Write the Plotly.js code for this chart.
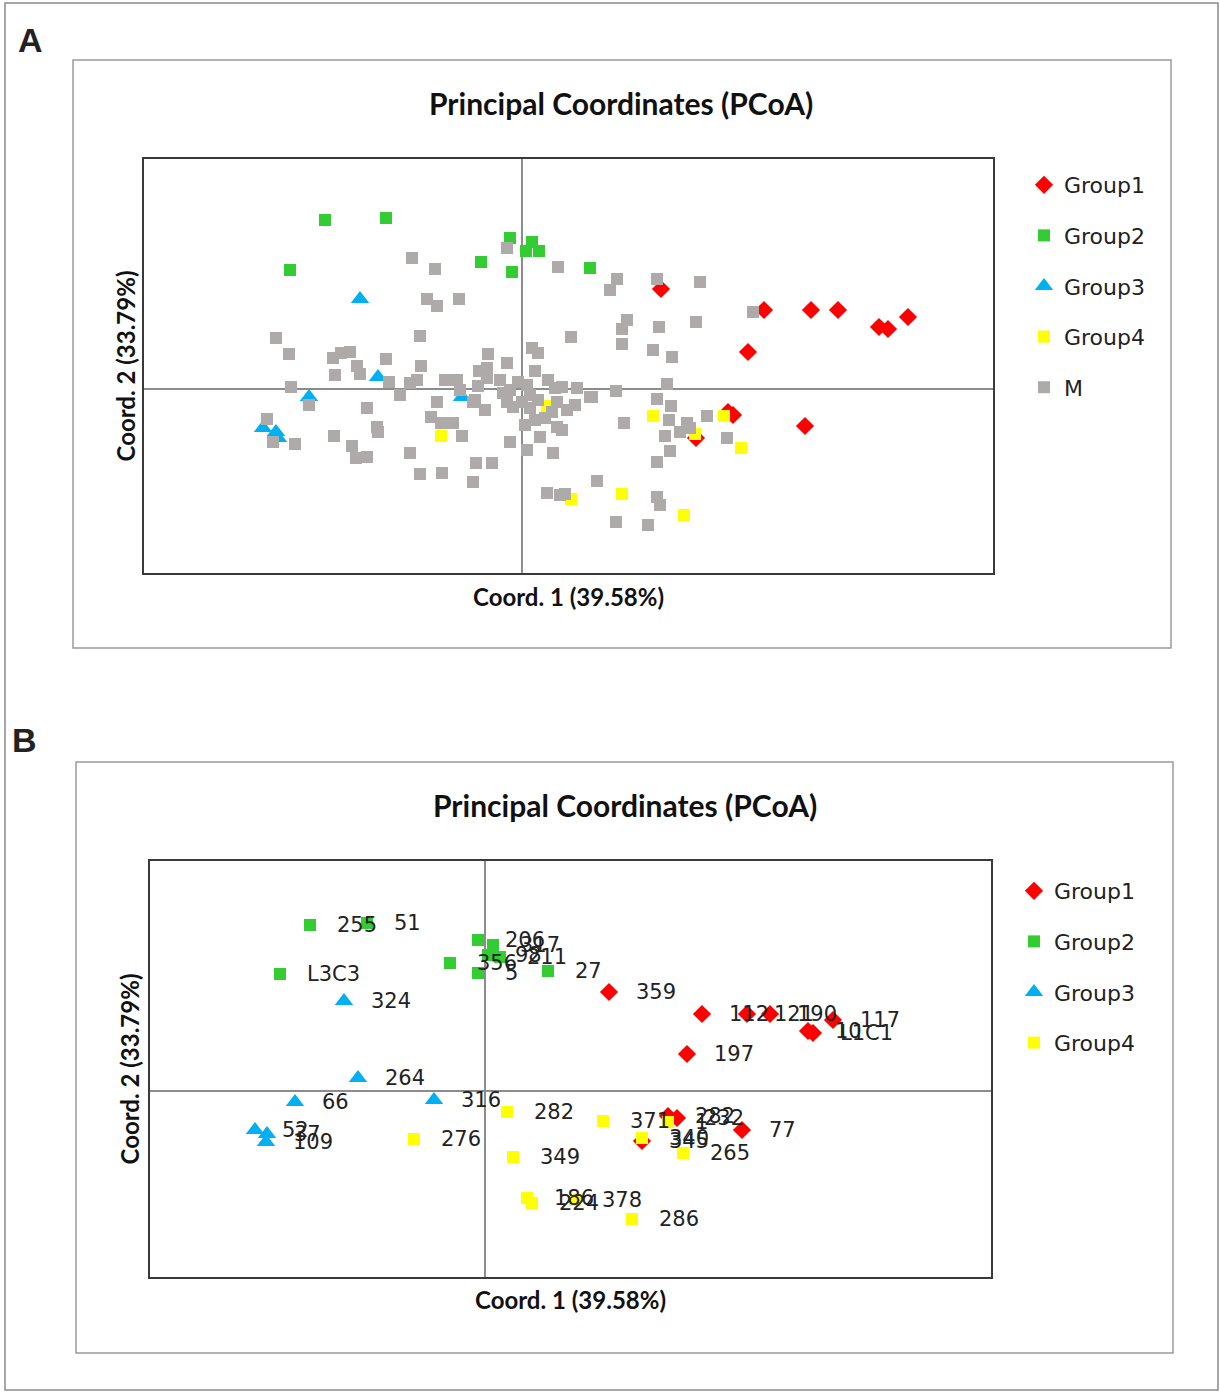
<!DOCTYPE html>
<html><head><meta charset="utf-8">
<script src="https://cdn.plot.ly/plotly-3.0.1.min.js"></script>
<style>html,body{margin:0;padding:0;background:#fff}#chart{width:1220px;height:1393px}</style>
</head><body><div id="chart"></div>
<script>
// ---------- Panel A data ----------
const g1A_x = [0.139,0.242,0.289,0.316,0.357,0.366,0.386,0.226,0.206,0.211,0.283,0.174];
const g1A_y = [0.100,0.079,0.079,0.079,0.062,0.060,0.072,0.037,-0.023,-0.026,-0.037,-0.049];
const g2A_x = [-0.197,-0.136,-0.232,-0.012,-0.041,-0.010,0.010,0.004,0.017,0.068];
const g2A_y = [0.169,0.171,0.119,0.151,0.127,0.117,0.147,0.138,0.138,0.121];
const g3A_x = [-0.162,-0.144,-0.213,-0.259,-0.246,-0.244,-0.060];
const g3A_y = [0.090,0.012,-0.008,-0.039,-0.043,-0.049,-0.008];
const g4A_x = [-0.081,0.025,0.131,0.202,0.173,0.219,0.049,0.100,0.162];
const g4A_y = [-0.047,-0.017,-0.027,-0.027,-0.045,-0.059,-0.110,-0.105,-0.126];
const mA_x = [-0.015,-0.110,-0.087,0.036,-0.095,-0.085,-0.063,-0.246,-0.233,-0.102,
  -0.034,-0.015,0.010,0.016,0.013,0.049,-0.136,-0.101,-0.189,-0.181,
  -0.172,-0.165,-0.187,-0.162,-0.231,-0.213,-0.133,-0.122,-0.112,-0.105,
  -0.077,-0.065,-0.062,-0.085,-0.049,-0.255,-0.249,-0.227,-0.188,-0.155,
  -0.145,-0.144,-0.170,-0.166,-0.155,-0.091,-0.081,-0.069,-0.060,-0.112,
  -0.102,-0.080,-0.046,-0.049,-0.030,-0.043,-0.035,-0.035,-0.004,0.005,
  -0.012,-0.019,-0.044,-0.047,-0.037,-0.015,-0.009,0.000,0.008,0.016,
  0.033,0.040,0.055,0.068,0.053,0.045,0.035,0.030,0.040,0.018,
  0.035,0.003,-0.012,0.005,0.031,0.095,0.088,0.135,0.178,0.231,
  0.105,0.100,0.100,0.137,0.174,0.131,0.150,0.094,0.145,0.135,
  0.149,0.147,0.185,0.165,0.158,0.143,0.168,0.205,0.102,0.148,
  0.135,0.075,0.135,0.138,0.094,0.126,0.025,0.038,0.043,0.070,
  0.008,0.023,0.013,0.026,-0.022];
const mA_y = [0.141,0.131,0.120,0.122,0.090,0.083,0.090,0.051,0.035,0.053,
  0.035,0.026,0.041,0.036,0.018,0.052,0.030,0.023,0.031,0.036,
  0.037,0.023,0.014,0.015,0.002,-0.016,0.007,-0.006,0.006,0.009,
  0.009,0.009,-0.001,-0.013,-0.013,-0.030,-0.053,-0.055,-0.047,-0.019,
  -0.038,-0.043,-0.057,-0.069,-0.068,-0.028,-0.034,-0.034,-0.047,-0.064,
  -0.085,-0.084,-0.074,-0.093,-0.074,0.018,0.021,0.011,0.007,0.004,
  -0.001,-0.004,0.003,-0.011,-0.021,-0.013,-0.018,-0.013,-0.019,-0.011,
  0.001,0.002,0.001,-0.008,-0.016,-0.021,-0.013,-0.023,-0.041,-0.048,
  -0.038,-0.036,-0.053,-0.061,-0.064,0.110,0.099,0.110,0.107,0.077,
  0.069,0.060,0.045,0.062,0.067,0.039,0.032,-0.002,0.005,-0.010,
  -0.017,-0.031,-0.027,-0.034,-0.043,-0.047,-0.039,-0.049,-0.034,-0.062,
  -0.073,-0.092,-0.108,-0.116,-0.133,-0.136,-0.104,-0.106,-0.105,-0.008,
  -0.006,-0.029,-0.031,0.009,0.009];

// ---------- Panel B data ----------
const g1B_x = [0.124,0.217,0.262,0.285,0.323,0.328,0.348,0.202,0.183,0.192,0.257,0.157];
const g1B_y = [0.099,0.077,0.077,0.077,0.060,0.058,0.071,0.037,-0.025,-0.027,-0.039,-0.050];
const g1B_lab = ["359","112","121","190","10","L1C1","117","197","282","232","77","345"];
const g2B_x = [-0.175,-0.118,-0.205,-0.007,0.008,0.003,0.015,-0.035,-0.007,0.063];
const g2B_y = [0.166,0.168,0.117,0.151,0.146,0.136,0.134,0.128,0.118,0.120];
const g2B_lab = ["255","51","L3C3","206","317","98","211","356","5","27"];
const g3B_x = [-0.141,-0.127,-0.190,-0.051,-0.230,-0.218,-0.219];
const g3B_y = [0.090,0.013,-0.011,-0.009,-0.039,-0.043,-0.051];
const g3B_lab = ["324","264","66","316","52","37","109"];
const g4B_x = [0.022,0.118,0.183,0.157,0.198,0.028,-0.071,0.042,0.047,0.090,0.147];
const g4B_y = [-0.021,-0.030,-0.031,-0.047,-0.062,-0.066,-0.048,-0.107,-0.112,-0.109,-0.128];
const g4B_lab = ["282","371","1","340","265","349","276","186","224","378","286"];

const colors = {Group1:"#ff0000", Group2:"#33cc33", Group3:"#00b0f0", Group4:"#ffff00", M:"#aeaaaa"};
const symbols = {Group1:"diamond", Group2:"square", Group3:"triangle-up", Group4:"square", M:"square"};
const sizes = {Group1:14, Group2:12, Group3:16, Group4:12, M:12};

const fontTxt = "DejaVu Sans, Verdana, sans-serif";
const fontBold = "Lato, Carlito, Calibri, sans-serif";

function tr(name, x, y, xa, ya, leg) {
  return {type:"scatter", mode:"markers", name:name, x:x, y:y, xaxis:xa, yaxis:ya,
    legend:leg, legendgroup:name+leg,
    marker:{color:colors[name], symbol:symbols[name], size:sizes[name], line:{width:0}},
    hoverinfo:"x+y+name"};
}

const data = [
  tr("Group1", g1A_x, g1A_y, "x", "y", "legend"),
  tr("Group2", g2A_x, g2A_y, "x", "y", "legend"),
  tr("Group3", g3A_x, g3A_y, "x", "y", "legend"),
  tr("Group4", g4A_x, g4A_y, "x", "y", "legend"),
  tr("M", mA_x, mA_y, "x", "y", "legend"),
  tr("Group1", g1B_x, g1B_y, "x2", "y2", "legend2"),
  tr("Group2", g2B_x, g2B_y, "x2", "y2", "legend2"),
  tr("Group3", g3B_x, g3B_y, "x2", "y2", "legend2"),
  tr("Group4", g4B_x, g4B_y, "x2", "y2", "legend2")
];

const W = 1220, H = 1393;
const px = v => v / W, py = v => 1 - v / H;

function axis(domain, range, title, standoff, anchor) {
  return {domain:domain, range:range, anchor:anchor, showgrid:false, showticklabels:false, ticks:"",
    zeroline:true, zerolinecolor:"#8c8c8c", zerolinewidth:1.5,
    showline:true, mirror:true, linecolor:"#3a3a3a", linewidth:2,
    title:{text:title, font:{family:fontBold, size:24, color:"#111", weight:"bold"}, standoff:standoff},
    fixedrange:true};
}

const annotations = [];
function labels(xs, ys, labs, xa, ya) {
  for (let i = 0; i < xs.length; i++) {
    annotations.push({x:xs[i], y:ys[i], xref:xa, yref:ya, text:labs[i], showarrow:false,
      xanchor:"left", yanchor:"middle", xshift:25, font:{family:fontTxt, size:21, color:"#222"}});
  }
}
labels(g1B_x, g1B_y, g1B_lab, "x2", "y2");
labels(g2B_x, g2B_y, g2B_lab, "x2", "y2");
labels(g3B_x, g3B_y, g3B_lab, "x2", "y2");
labels(g4B_x, g4B_y, g4B_lab, "x2", "y2");

const titleFont = {family:fontBold, size:30, color:"#111", weight:"bold"};
annotations.push({x:px(621), y:py(103), xref:"paper", yref:"paper", text:"Principal Coordinates (PCoA)",
  showarrow:false, xanchor:"center", yanchor:"middle", font:titleFont});
annotations.push({x:px(625), y:py(805), xref:"paper", yref:"paper", text:"Principal Coordinates (PCoA)",
  showarrow:false, xanchor:"center", yanchor:"middle", font:titleFont});
const letterFont = {family:"Liberation Sans, Arial, sans-serif", size:34, color:"#222", weight:"bold"};
annotations.push({x:px(16), y:py(40), xref:"paper", yref:"paper", text:"A",
  showarrow:false, xanchor:"left", yanchor:"middle", font:letterFont});
annotations.push({x:px(10), y:py(740), xref:"paper", yref:"paper", text:"B",
  showarrow:false, xanchor:"left", yanchor:"middle", font:letterFont});

const shapes = [
  {type:"rect", xref:"paper", yref:"paper", x0:px(5), x1:px(1218), y0:py(1390), y1:py(3), line:{color:"#8a8a8a", width:1.5}},
  {type:"rect", xref:"paper", yref:"paper", x0:px(73), x1:px(1171), y0:py(648), y1:py(60), line:{color:"#9a9a9a", width:1.5}},
  {type:"rect", xref:"paper", yref:"paper", x0:px(76), x1:px(1173), y0:py(1353), y1:py(762), line:{color:"#9a9a9a", width:1.5}}
];

const legFont = {family:fontTxt, size:22, color:"#222"};
const layout = {
  width:W, height:H, margin:{l:0, r:0, t:0, b:0}, paper_bgcolor:"#fff", plot_bgcolor:"#fff",
  showlegend:true,
  xaxis: axis([px(144), px(993)], [-0.378, 0.471], "Coord. 1 (39.58%)", 15, "y"),
  yaxis: axis([py(573), py(159)], [-0.184, 0.230], "Coord. 2 (33.79%)", 0, "x"),
  xaxis2: axis([px(150), px(991)], [-0.335, 0.506], "Coord. 1 (39.58%)", 14, "y2"),
  yaxis2: axis([py(1277), py(861)], [-0.186, 0.230], "Coord. 2 (33.79%)", 2, "x2"),
  legend: {x:px(1024), y:py(164), xanchor:"left", yanchor:"top", font:legFont, tracegroupgap:19,
    bgcolor:"rgba(0,0,0,0)", itemwidth:30},
  legend2: {x:px(1014), y:py(870), xanchor:"left", yanchor:"top", font:legFont, tracegroupgap:19,
    bgcolor:"rgba(0,0,0,0)", itemwidth:30},
  annotations:annotations, shapes:shapes
};

Plotly.newPlot("chart", data, layout, {staticPlot:true, displayModeBar:false});
</script></body></html>
